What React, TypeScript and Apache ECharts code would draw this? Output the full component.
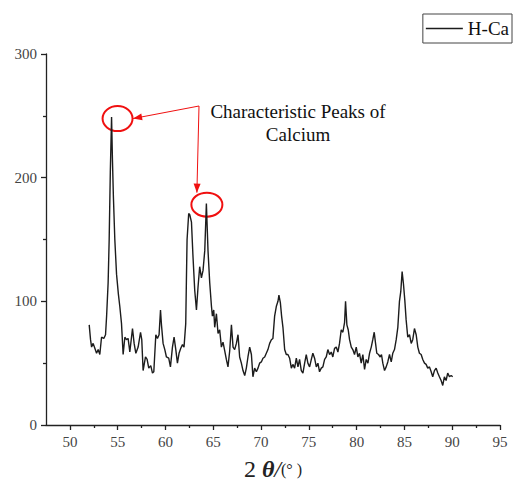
import React, { useEffect, useRef } from "react";
import * as echarts from "echarts";

// Diffraction angle 2θ (degrees)
const twoTheta = [
  52.02, 52.16, 52.27, 52.43, 52.61, 52.79, 52.96, 53.13, 53.31, 53.55,
  53.73, 53.84, 54.0, 54.11, 54.23, 54.36, 54.45, 54.55, 54.7, 54.88,
  55.07, 55.22, 55.4, 55.57, 55.75, 55.92, 56.09, 56.27, 56.55, 56.72,
  56.9, 57.14, 57.39, 57.52, 57.66, 57.91, 58.08, 58.25, 58.46, 58.64,
  58.78, 58.99, 59.16, 59.33, 59.48, 59.58, 59.75, 59.93, 60.1, 60.34,
  60.52, 60.73, 60.9, 61.08, 61.25, 61.42, 61.6, 61.78, 61.94, 62.12,
  62.19, 62.26, 62.43, 62.54, 62.72, 62.88, 63.06, 63.24, 63.41, 63.58,
  63.76, 63.93, 64.11, 64.28, 64.45, 64.63, 64.81, 64.91, 65.05, 65.15,
  65.33, 65.5, 65.67, 65.85, 66.02, 66.2, 66.37, 66.54, 66.72, 66.9,
  67.07, 67.24, 67.42, 67.59, 67.76, 67.94, 68.11, 68.29, 68.46, 68.63,
  68.81, 68.99, 69.15, 69.33, 69.51, 69.68, 69.85, 70.03, 70.2, 70.38,
  70.55, 70.72, 70.9, 71.08, 71.24, 71.42, 71.6, 71.77, 71.87, 72.02,
  72.15, 72.29, 72.47, 72.64, 72.81, 72.99, 73.17, 73.33, 73.51, 73.69,
  73.86, 74.03, 74.21, 74.38, 74.56, 74.73, 74.9, 75.08, 75.26, 75.42,
  75.6, 75.78, 75.95, 76.12, 76.3, 76.47, 76.65, 76.82, 76.99, 77.17,
  77.35, 77.51, 77.69, 77.87, 78.04, 78.21, 78.39, 78.56, 78.74, 78.84,
  78.98, 79.12, 79.26, 79.44, 79.6, 79.78, 79.96, 80.13, 80.3, 80.48,
  80.65, 80.83, 81.0, 81.18, 81.35, 81.53, 81.69, 81.84, 81.98, 82.11,
  82.29, 82.47, 82.6, 82.74, 82.92, 83.09, 83.26, 83.44, 83.62, 83.78,
  83.96, 84.14, 84.31, 84.48, 84.62, 84.76, 84.9, 85.04, 85.18, 85.35,
  85.53, 85.71, 85.87, 86.05, 86.23, 86.4, 86.57, 86.75, 86.92, 87.1,
  87.27, 87.44, 87.62, 87.8, 87.96, 88.14, 88.32, 88.49, 88.66, 88.84,
  89.01, 89.18, 89.36, 89.53, 89.71, 89.89, 90.05,
];

// Measured intensity (counts)
const intensity = [
  81, 69, 63, 66, 62, 58, 61, 57, 71, 70,
  73, 88, 115, 150, 205, 249, 215, 185, 150, 122,
  106, 96, 82, 57, 71, 69, 70, 59, 78, 66,
  58, 63, 75, 69, 44, 55, 53, 46, 48, 42,
  43, 73, 70, 73, 93, 81, 66, 61, 55, 54,
  47, 63, 71, 61, 50, 58, 62, 65, 63, 82,
  117, 150, 171, 170, 164, 136, 109, 93, 112, 128,
  119, 125, 141, 179, 141, 115, 96, 88, 93, 79,
  90, 74, 77, 63, 67, 60, 53, 47, 60, 81,
  63, 61, 66, 73, 55, 50, 44, 40, 46, 55,
  63, 57, 39, 46, 43, 46, 50, 51, 54, 55,
  58, 61, 66, 69, 70, 88, 96, 100, 105, 99,
  88, 79, 61, 57, 57, 54, 46, 49, 46, 54,
  47, 53, 44, 42, 50, 57, 50, 47, 53, 58,
  54, 47, 50, 43, 46, 47, 53, 55, 61, 57,
  59, 55, 62, 63, 59, 66, 77, 75, 83, 100,
  81, 77, 69, 63, 61, 57, 63, 55, 58, 50,
  57, 45, 53, 50, 58, 63, 69, 75, 66, 58,
  57, 55, 57, 50, 44, 47, 51, 57, 51, 58,
  61, 69, 79, 100, 108, 124, 114, 101, 85, 71,
  73, 66, 69, 78, 73, 63, 58, 57, 53, 50,
  49, 46, 47, 43, 39, 44, 46, 42, 39, 36,
  32, 39, 36, 42, 39, 40, 39,
];

// Tick positions on the 2θ axis
const xMajorTicks = [50, 55, 60, 65, 70, 75, 80, 85, 90, 95];
const xMinorTicks = [52.5, 57.5, 62.5, 67.5, 72.5, 77.5, 82.5, 87.5, 92.5];

// Peaks highlighted by the annotation
const calciumPeaks = [
  [54.36, 249],
  [64.28, 179],
];

const SERIF = '"Liberation Serif", "Times New Roman", serif';
const RED = "#f01010";
const INK = "#1c1c1c";

function arrowHead(from: number[], to: number[], len = 9, half = 3.5) {
  const dx = to[0] - from[0];
  const dy = to[1] - from[1];
  const d = Math.hypot(dx, dy) || 1;
  const ux = dx / d;
  const uy = dy / d;
  const bx = to[0] - ux * len;
  const by = to[1] - uy * len;
  return [
    [to[0], to[1]],
    [bx - uy * half, by + ux * half],
    [bx + uy * half, by - ux * half],
  ];
}

export default function App() {
  const ref = useRef<HTMLDivElement>(null);

  useEffect(() => {
    if (!ref.current) return;
    const chart = echarts.init(ref.current, undefined, { renderer: "svg" });
    const data = twoTheta.map((t, i) => [t, intensity[i]]);

    const axisLineStyle = { color: "#222", width: 1.3 };
    const labelStyle = {
      fontFamily: SERIF,
      fontSize: 15,
      color: "#444",
    };

    chart.setOption({
      animation: false,
      backgroundColor: "#fff",
      color: [INK],
      grid: { left: 46, right: 14, top: 54, bottom: 56, outerBoundsMode: "none" },
      legend: {
        right: 2,
        top: 14,
        padding: [5, 3, 5, 3],
        borderColor: "#444",
        borderWidth: 1,
        borderRadius: 0,
        icon: "rect",
        itemWidth: 37,
        itemHeight: 1.6,
        textStyle: { fontFamily: SERIF, fontSize: 19, color: "#111" },
        data: ["H-Ca"],
      },
      xAxis: [
        {
          type: "value",
          min: 47.5,
          max: 95,
          axisLine: { show: true, onZero: false, lineStyle: axisLineStyle },
          axisTick: {
            show: true,
            inside: false,
            length: 5,
            customValues: xMajorTicks,
            lineStyle: axisLineStyle,
          },
          axisLabel: { ...labelStyle, margin: 9, customValues: xMajorTicks },
          splitLine: { show: false },
          name: "{a|2 }{b|θ}{c|/}{d|(° )}",
          nameLocation: "middle",
          nameGap: 31,
          nameTextStyle: {
            lineHeight: 26,
            rich: {
              a: { fontFamily: SERIF, fontSize: 24, color: "#222", lineHeight: 26 },
              b: {
                fontFamily: SERIF,
                fontSize: 24,
                fontStyle: "italic",
                fontWeight: "bold",
                color: "#222",
                lineHeight: 26,
              },
              c: {
                fontFamily: SERIF,
                fontSize: 24,
                fontStyle: "italic",
                color: "#222",
                lineHeight: 26,
              },
              d: { fontFamily: SERIF, fontSize: 16, color: "#222", lineHeight: 26 },
            },
          },
        },
        {
          type: "value",
          min: 47.5,
          max: 95,
          position: "bottom",
          axisLine: { show: false },
          axisTick: {
            show: true,
            length: 3,
            customValues: xMinorTicks,
            lineStyle: axisLineStyle,
          },
          axisLabel: { show: false },
          splitLine: { show: false },
        },
      ],
      yAxis: {
        type: "value",
        min: 0,
        max: 300,
        interval: 100,
        axisLine: { show: true, lineStyle: axisLineStyle },
        axisTick: { show: true, length: 5, lineStyle: axisLineStyle },
        minorTick: { show: true, splitNumber: 2, length: 3, lineStyle: axisLineStyle },
        axisLabel: { ...labelStyle, margin: 9 },
        splitLine: { show: false },
        minorSplitLine: { show: false },
      },
      series: [
        {
          name: "H-Ca",
          type: "line",
          xAxisIndex: 0,
          data,
          symbol: "none",
          itemStyle: { color: INK },
          lineStyle: { color: INK, width: 1.4 },
        },
      ],
    });

    // Annotation: ellipses around the calcium peaks with arrows from the caption
    const p1 = chart.convertToPixel({ xAxisIndex: 0, yAxisIndex: 0 }, calciumPeaks[0]) as number[];
    const p2 = chart.convertToPixel({ xAxisIndex: 0, yAxisIndex: 0 }, calciumPeaks[1]) as number[];
    const e1 = [p1[0] + 6, p1[1] + 1.5];
    const e2 = [p2[0] + 0.5, p2[1] + 1];
    const origin = [199, 106];
    const tip1 = [e1[0] + 15.5, e1[1]];
    const tip2 = [e2[0] - 10, e2[1] - 12];

    chart.setOption({
      graphic: [
        {
          type: "ellipse",
          shape: { cx: e1[0], cy: e1[1], rx: 15, ry: 12.5 },
          style: { fill: "none", stroke: RED, lineWidth: 2 },
        },
        {
          type: "ellipse",
          shape: { cx: e2[0], cy: e2[1], rx: 15.5, ry: 12 },
          style: { fill: "none", stroke: RED, lineWidth: 2 },
        },
        {
          type: "polyline",
          shape: { points: [tip1, origin, tip2] },
          style: { fill: "none", stroke: RED, lineWidth: 1 },
        },
        {
          type: "polygon",
          shape: { points: arrowHead(origin, tip1) },
          style: { fill: RED },
        },
        {
          type: "polygon",
          shape: { points: arrowHead(origin, tip2) },
          style: { fill: RED },
        },
        {
          type: "text",
          x: 298,
          y: 122.5,
          style: {
            text: "Characteristic Peaks of\nCalcium",
            align: "center",
            verticalAlign: "middle",
            fontFamily: SERIF,
            fontSize: 19,
            lineHeight: 23,
            fill: "#111",
          },
        },
      ],
    });

    return () => chart.dispose();
  }, []);

  return (
    <div
      ref={ref}
      style={{ position: "fixed", left: 0, top: 0, width: 514, height: 481 }}
    />
  );
}
